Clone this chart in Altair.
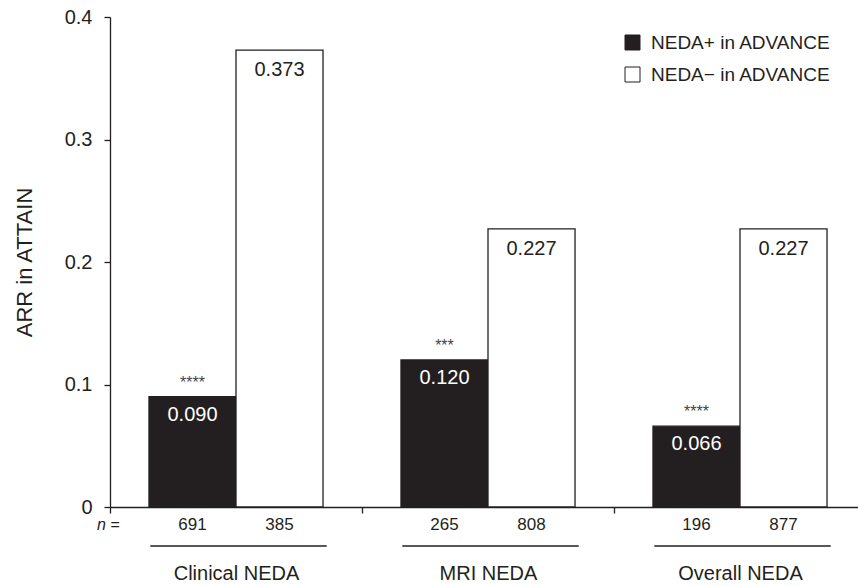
import altair as alt
import pandas as pd

# Annualized relapse rate in ATTAIN by NEDA status in ADVANCE
groups = ["Clinical NEDA", "MRI NEDA", "Overall NEDA"]
series = ["NEDA+ in ADVANCE", "NEDA\u2212 in ADVANCE"]
arr_pos = [0.090, 0.120, 0.066]
arr_neg = [0.373, 0.227, 0.227]
n_pos = [691, 265, 196]
n_neg = [385, 808, 877]
stars = ["****", "***", "****"]

rows = []
for i, g in enumerate(groups):
    rows.append({"group": g, "series": series[0], "arr": arr_pos[i], "n": n_pos[i], "sig": stars[i]})
    rows.append({"group": g, "series": series[1], "arr": arr_neg[i], "n": n_neg[i], "sig": ""})
df = pd.DataFrame(rows)

FONT = "Liberation Sans"
INK = "#231f20"
W, H = 748, 490

x_enc = alt.X(
    "group:N",
    sort=groups,
    scale=alt.Scale(range=[0, 756], paddingInner=0, paddingOuter=0),
    axis=alt.Axis(
        title=None,
        tickBand="extent",
        tickSize=6,
        tickColor=INK,
        domainColor=INK,
        labelFont=FONT,
        labelFontSize=20,
        labelColor=INK,
        labelPadding=50,
        labelAngle=0,
    ),
)
xoff = alt.XOffset("series:N", sort=series,
                   scale=alt.Scale(paddingInner=0, paddingOuter=0.448))
y_enc = alt.Y(
    "arr:Q",
    scale=alt.Scale(domain=[0, 0.4], nice=False),
    axis=alt.Axis(
        title="ARR in ATTAIN",
        titleFont=FONT,
        titleFontSize=22,
        titleFontWeight="normal",
        titleColor=INK,
        titlePadding=28,
        values=[0, 0.1, 0.2, 0.3, 0.4],
        labelExpr="datum.value == 0 ? '0' : format(datum.value, '.1f')",
        labelFont=FONT,
        labelFontSize=20,
        labelColor=INK,
        labelPadding=12,
        tickSize=6,
        tickColor=INK,
        domainColor=INK,
        grid=False,
    ),
)

base = alt.Chart(df)

bars = base.mark_bar(stroke=INK, strokeWidth=1.3).encode(
    x=x_enc,
    xOffset=xoff,
    y=y_enc,
    fill=alt.Fill(
        "series:N",
        sort=series,
        scale=alt.Scale(domain=series, range=[INK, "white"]),
        legend=alt.Legend(
            title=None,
            orient="none",
            legendX=513,
            legendY=16,
            symbolType="square",
            symbolSize=225,
            symbolStrokeColor=INK,
            symbolStrokeWidth=1,
            labelFont=FONT,
            labelFontSize=19,
            labelColor=INK,
            labelLimit=400,
            labelOffset=9,
            rowPadding=12,
        ),
    ),
)

val_dark = base.transform_filter(alt.datum.series == series[0]).mark_text(
    font=FONT, fontSize=20, color="white", baseline="middle", dy=18
).encode(x=x_enc, xOffset=xoff, y=y_enc, text=alt.Text("arr:Q", format=".3f"))

val_light = base.transform_filter(alt.datum.series == series[1]).mark_text(
    font=FONT, fontSize=20, color=INK, baseline="middle", dy=20
).encode(x=x_enc, xOffset=xoff, y=y_enc, text=alt.Text("arr:Q", format=".3f"))

sig_text = base.transform_filter(alt.datum.series == series[0]).mark_text(
    font=FONT, fontSize=16, color="#444444", baseline="middle", dy=-14
).encode(x=x_enc, xOffset=xoff, y=y_enc, text="sig:N")

n_text = base.mark_text(
    font=FONT, fontSize=17, color=INK, baseline="middle"
).encode(x=x_enc, xOffset=xoff, y=alt.value(H + 18), text="n:Q")

n_label = alt.Chart(pd.DataFrame({"t": ["n ="]})).mark_text(
    font=FONT, fontSize=16, fontStyle="italic", color=INK, baseline="middle", align="left"
).encode(x=alt.value(-13), y=alt.value(H + 18), text="t:N")

underline = base.transform_filter(alt.datum.series == series[0]).mark_rule(
    color=INK, strokeWidth=1.3
).encode(
    x=alt.X("group:N", sort=groups, bandPosition=0.16),
    x2=alt.X2("group", bandPosition=0.86),
    y=alt.value(H + 39),
)

chart = (
    alt.layer(bars, val_dark, val_light, sig_text, n_text, n_label, underline)
    .properties(
        width=W,
        height=H,
        autosize=alt.AutoSizeParams(type="none"),
        padding={"left": 110, "top": 17, "right": 0, "bottom": 79},
        background="white",
    )
    .configure_view(stroke=None)
    .configure_axisX(domainWidth=1.3, tickWidth=1.3)
    .configure_axisY(domainWidth=1.3, tickWidth=1.3)
)

chart.save("out.html", embed_options={"renderer": "svg", "actions": False})
